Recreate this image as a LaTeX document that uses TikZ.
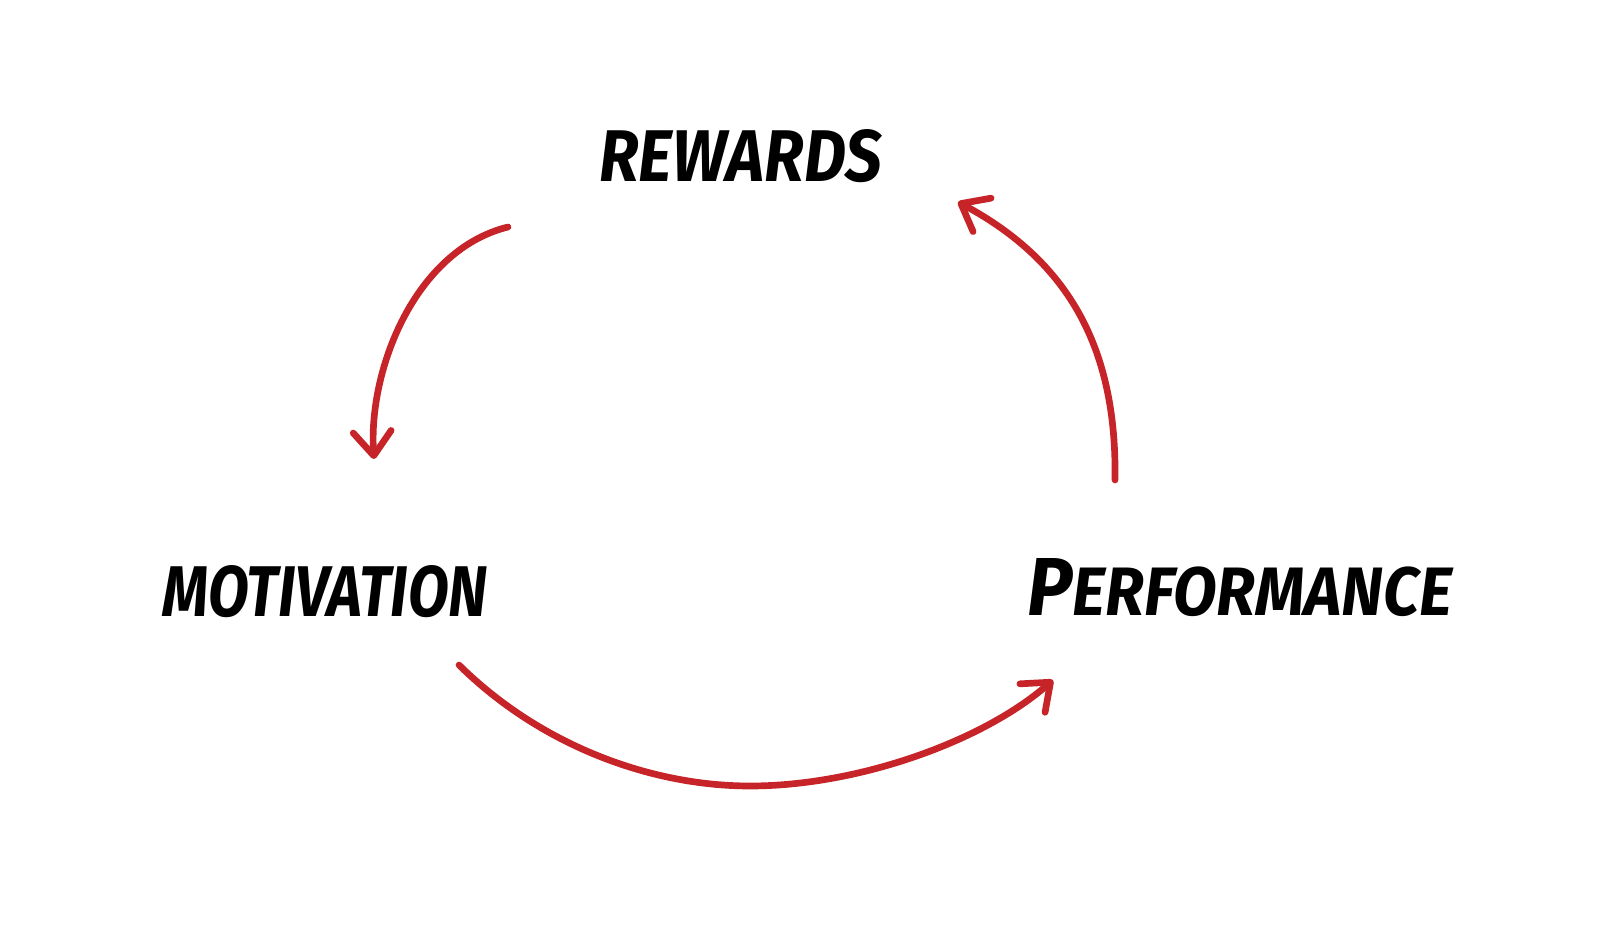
\documentclass[tikz,border=0pt]{standalone}
\usepackage{fontspec}
\usepackage{graphicx}
\setmainfont{Fira Sans}
\usetikzlibrary{arrows.meta}
\definecolor{arrowred}{RGB}{198,36,40}
\tikzset{
  label/.style={inner sep=0pt, outer sep=0pt, text=black, font=\bfseries\itshape},
  cyclearrow/.style={draw=arrowred, line width=3.8pt, line cap=round, line join=round,
    -{Straight Barb[length=0.48cm, width=0.76cm, line cap=round, line join=round]}}
}
\begin{document}
\begin{tikzpicture}[x=0.02cm, y=-0.02cm]
\useasboundingbox (0,0) rectangle (1600,935);
\fill[white] (0,0) rectangle (1600,935);
% labels
\node[label] (rew) at (741,156) {\resizebox{5.66cm}{1.04cm}{REWARDS}};
\node[label] (mot) at (325,592) {\resizebox{6.5cm}{1.02cm}{MOTIVATION}};
\node[label] (perf) at (1240,588) {\resizebox{8.5cm}{1.14cm}{{\fontsize{48}{48}\selectfont P}{\fontsize{40}{40}\selectfont ERFORMANCE}}};
% arrow end points
\coordinate (a1s) at (508,227);
\coordinate (a1e) at (374,459);
\coordinate (a2s) at (459,665);
\coordinate (a2m) at (750,786);
\coordinate (a2e) at (1053,680);
\coordinate (a3s) at (1115,480);
\coordinate (a3e) at (958,202);
% arrows
\draw[cyclearrow] (a1s) .. controls (415,250) and (368,370) .. (a1e);
\draw[cyclearrow] (a2s) .. controls (540,745) and (650,786) .. (a2m)
  .. controls (860,786) and (985,740) .. (a2e);
\draw[cyclearrow] (a3s) .. controls (1117,350) and (1070,262) .. (a3e);
\end{tikzpicture}
\end{document}
